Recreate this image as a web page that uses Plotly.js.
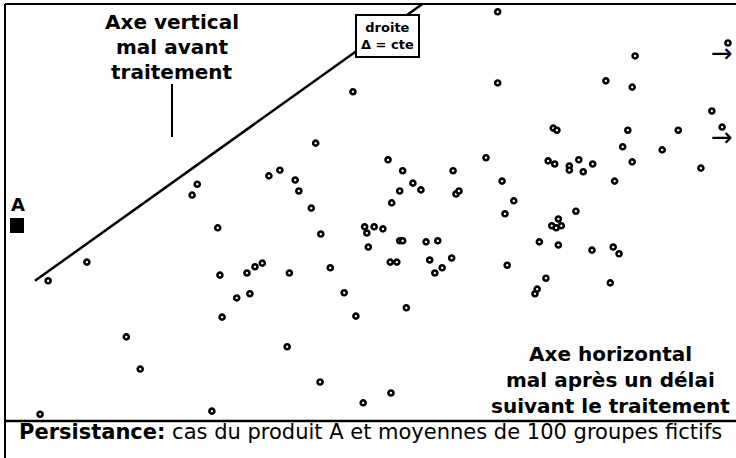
<!DOCTYPE html>
<html><head><meta charset="utf-8">
<script src="https://cdn.plot.ly/plotly-3.0.1.min.js"></script>
<style>html,body{margin:0;padding:0;background:#fff}</style>
</head><body><div id="chart" style="width:736px;height:458px"></div>
<script>
// 100 fictitious groups: x = harm after a delay following treatment, y = harm before treatment
const groupX = [4.8,5.9,11.2,16.6,18.5,25.6,26.3,28.3,29.1,29.4,29.7,31.7,33.1,33.5,34.2,35.2,36.1,37.6,38.6,38.9,
  39.7,40.2,41.9,42.5,43.1,43.2,44.5,46.4,47.6,48.0,49.0,49.2,49.5,50.5,49.7,51.7,52.4,52.7,53.6,52.8,
  52.9,54.0,54.0,54.4,54.4,54.9,55.8,56.9,57.6,58.1,58.8,59.2,59.8,61.1,61.3,61.7,62.1,65.8,67.4,67.4,
  68.0,68.4,68.7,69.6,72.5,72.8,73.1,74.0,74.3,75.2,75.0,75.5,74.8,75.4,76.1,75.7,75.7,77.2,77.2,78.1,
  78.5,79.1,80.3,80.4,82.2,82.8,83.2,83.4,84.0,84.5,85.2,85.8,85.8,86.2,89.9,92.1,95.2,96.7,98.1,98.9];
const groupY = [1.3,27.0,30.6,16.2,10.0,43.5,45.6,1.9,37.2,28.1,20.0,23.7,28.5,24.5,29.7,30.4,47.2,48.3,14.3,28.5,
  46.4,44.3,41.0,53.5,7.5,36.0,29.5,24.7,63.4,20.2,3.5,37.4,36.2,37.4,33.5,37.0,50.3,30.6,30.6,5.4,
  42.0,44.3,34.7,34.7,48.2,21.8,45.8,44.5,34.5,31.0,28.5,34.7,29.5,31.4,48.2,43.7,44.3,50.7,78.8,65.1,
  46.2,39.9,30.0,42.4,24.5,25.4,34.5,27.5,50.1,49.5,56.4,56.0,37.6,37.2,37.6,38.9,33.9,49.1,48.3,40.4,
  50.3,48.0,32.9,49.5,65.5,26.6,33.5,46.2,32.2,52.8,56.0,64.3,49.9,70.3,52.2,56.0,48.7,59.7,56.6,72.8];
// line of constant delta (y - x = cte)
const deltaLineX = [4.1, 57.1];
const deltaLineY = [27.0, 80.3];

const verticalAxisLabel = ["Axe vertical", "mal avant", "traitement"];
const horizontalAxisLabel = ["Axe horizontal", "mal après un délai", "suivant le traitement"];
const lineLabel = ["droite", "Δ = cte"];
const productLabel = "A";
const captionBold = "Persistance:";
const captionText = " cas du produit A et moyennes de 100 groupes fictifs";
const offScaleMark = "→";

const W = 736, H = 458, mL = 5, mT = 4, mB = 37;
const pw = W - mL, ph = H - mT - mB;
const px = v => (v - mL) / pw;          // page x -> paper
const py = v => (H - mB - v) / ph;      // page y -> paper

const FONT = "DejaVu Sans";
const headFont = {family: FONT, size: 20, color: "#000"};

const annotations = [];
verticalAxisLabel.forEach((t, i) => annotations.push({
  xref: "paper", yref: "paper", x: px(172), y: py(22 + 25 * i), xanchor: "center", yanchor: "middle",
  text: "<b>" + t + "</b>", showarrow: false, font: headFont
}));
horizontalAxisLabel.forEach((t, i) => annotations.push({
  xref: "paper", yref: "paper", x: px(610), y: py(354 + 26 * i), xanchor: "center", yanchor: "middle",
  text: "<b>" + t + "</b>", showarrow: false, font: headFont
}));
annotations.push({
  xref: "paper", yref: "paper", x: px(387.5), y: py(36.5), xanchor: "center", yanchor: "middle",
  text: "<b>" + lineLabel.join("<br>") + "</b>", showarrow: false,
  font: {family: FONT, size: 13, color: "#000"},
  bgcolor: "#fff", bordercolor: "#000", borderwidth: 2, borderpad: 4
});
annotations.push({
  xref: "paper", yref: "paper", x: px(17.5), y: py(204), xanchor: "center", yanchor: "middle",
  text: "<b>" + productLabel + "</b>", showarrow: false, font: {family: FONT, size: 18, color: "#000"}
});
[53, 137].forEach(yy => annotations.push({
  xref: "paper", yref: "paper", x: px(722), y: py(yy), xanchor: "center", yanchor: "middle",
  text: offScaleMark, showarrow: false, font: {family: FONT, size: 26, color: "#000"}
}));
annotations.push({
  xref: "paper", yref: "paper", x: px(370), y: py(432), xanchor: "center", yanchor: "middle",
  text: "<b>" + captionBold + "</b>" + captionText, showarrow: false,
  font: {family: FONT, size: 21, color: "#000"}
});

const shapes = [
  {type: "line", xref: "paper", yref: "paper", x0: 0, x1: 1, y0: 1, y1: 1, line: {color: "#000", width: 2}},
  {type: "line", xref: "paper", yref: "paper", x0: 0, x1: 1, y0: 0, y1: 0, line: {color: "#000", width: 2.5}},
  {type: "line", xref: "paper", yref: "paper", x0: 0, x1: 0, y0: py(H), y1: 1, line: {color: "#000", width: 2}},
  {type: "line", xref: "paper", yref: "paper", x0: px(172), x1: px(172), y0: py(84), y1: py(137), line: {color: "#000", width: 2}},
  {type: "rect", xref: "paper", yref: "paper", x0: px(10), x1: px(24), y0: py(233), y1: py(218), fillcolor: "#000", line: {width: 0}}
];

const traces = [
  {x: deltaLineX, y: deltaLineY, mode: "lines", line: {color: "#000", width: 2.5}, hoverinfo: "skip", cliponaxis: false},
  {x: groupX, y: groupY, mode: "markers", cliponaxis: false,
   marker: {symbol: "circle", size: 5, color: "#fff", line: {color: "#000", width: 2.6}}}
];

const layout = {
  width: W, height: H, showlegend: false,
  margin: {l: mL, r: 0, t: mT, b: mB, pad: 0},
  paper_bgcolor: "#fff", plot_bgcolor: "#fff",
  xaxis: {range: [0, 100], showgrid: false, zeroline: false, showticklabels: false, ticks: "", showline: false, fixedrange: true},
  yaxis: {range: [0, 80.3], showgrid: false, zeroline: false, showticklabels: false, ticks: "", showline: false, fixedrange: true},
  annotations: annotations, shapes: shapes
};

Plotly.newPlot("chart", traces, layout, {displayModeBar: false, staticPlot: true});
</script></body></html>
